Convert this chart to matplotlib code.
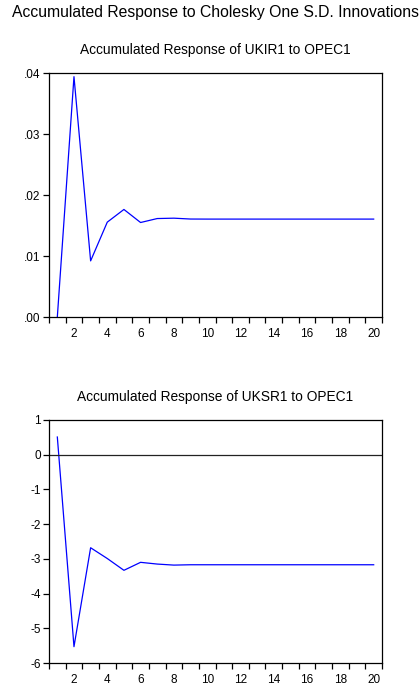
import matplotlib
matplotlib.use("Agg")
import matplotlib.pyplot as plt
import numpy as np

plt.rcParams['font.family'] = ['Liberation Sans', 'DejaVu Sans']

periods = list(range(1, 21))
ukir1 = [0.0000, 0.0394, 0.0092, 0.01555, 0.01763, 0.01549, 0.01614, 0.0162, 0.01606, 0.01605,
         0.01605, 0.01605, 0.01605, 0.01605, 0.01605, 0.01605, 0.01605, 0.01605, 0.01605, 0.01605]
uksr1 = [0.51, -5.53, -2.68, -2.99, -3.33, -3.10, -3.15, -3.18, -3.17, -3.17,
         -3.17, -3.17, -3.17, -3.17, -3.17, -3.17, -3.17, -3.17, -3.17, -3.17]

ukir_ticks = [0.00, 0.01, 0.02, 0.03, 0.04]
ukir_labels = ['.00', '.01', '.02', '.03', '.04']
uksr_ticks = [-6, -5, -4, -3, -2, -1, 0, 1]
xlabels = [2, 4, 6, 8, 10, 12, 14, 16, 18, 20]

fig = plt.figure(figsize=(4.2, 6.91), dpi=100)
W, H = 420, 691

def panel(top, bottom, values, title, yticks, ylabels, ylim, zero_line):
    ax = fig.add_axes([49 / W, 1 - bottom / H, (382 - 49) / W, (bottom - top) / H])
    ax.plot(periods, values, color='#0000ff', lw=0.9)
    if zero_line:
        ax.axhline(0, color='#222222', lw=0.9)
    ax.set_xlim(0.5, 20.5)
    ax.set_ylim(*ylim)
    # tick marks sit between periods, labels sit on the periods
    ax.set_xticks(np.arange(0.5, 21, 1))
    ax.set_xticklabels([])
    ax.set_xticks(xlabels, minor=True)
    ax.set_xticklabels([str(v) for v in xlabels], minor=True)
    ax.tick_params(axis='x', which='major', direction='out', length=4, width=0.9)
    ax.tick_params(axis='x', which='minor', length=0, pad=8, labelsize=8.5)
    ax.set_yticks(yticks)
    ax.set_yticklabels(ylabels)
    ax.tick_params(axis='y', direction='out', length=4, width=0.9, labelsize=8.5, pad=2)
    for s in ax.spines.values():
        s.set_linewidth(0.9)
    ax.set_title(title, fontsize=9.9, pad=14)
    return ax

panel(73, 317, ukir1, 'Accumulated Response of UKIR1 to OPEC1',
      ukir_ticks, ukir_labels, (0, 0.04), False)
panel(420, 663, uksr1, 'Accumulated Response of UKSR1 to OPEC1',
      uksr_ticks, [str(v) for v in uksr_ticks], (-6, 1), True)

fig.text(215.5 / W, 1 - 12 / H, 'Accumulated Response to Cholesky One S.D. Innovations',
         ha='center', va='center', fontsize=11.3)

fig.savefig('out.png', dpi=100)
